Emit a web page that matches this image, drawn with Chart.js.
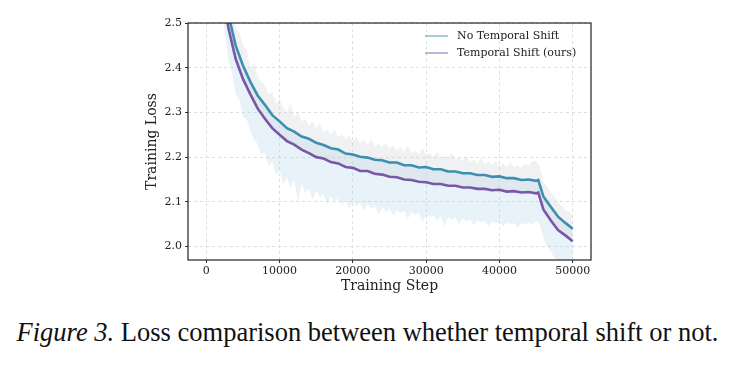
<!DOCTYPE html>
<html>
<head>
<meta charset="utf-8">
<script src="https://cdn.jsdelivr.net/npm/chart.js@4"></script>
<style>
  html, body { margin: 0; padding: 0; background: #fff; }
  #wrap { position: relative; width: 735px; height: 365px; }
  #loss-chart { position: absolute; left: 0; top: 0; }
  #caption {
    position: absolute; left: 0; top: 317px; width: 735px;
    text-align: center; font-family: "Liberation Serif", serif;
    font-size: 26.5px; line-height: 30px; color: #111; white-space: nowrap;
  }
</style>
</head>
<body>
<div id="wrap">
  <canvas id="loss-chart" width="735" height="300"></canvas>
  <div id="caption"><i>Figure 3.</i> Loss comparison between whether temporal shift or not.</div>
</div>
<script>
// training steps for the two loss curves
const steps = [2000, 3000, 4000, 5000, 6000, 7000, 8000, 9000, 10000, 11000, 12000, 13000, 14000, 15000,
  16000, 17000, 18000, 19000, 20000, 21000, 22000, 23000, 24000, 25000, 26000, 27000, 28000, 29000, 30000,
  31000, 32000, 33000, 34000, 35000, 36000, 37000, 38000, 39000, 40000, 41000, 42000, 43000, 44000, 45000,
  45300, 46000, 47000, 48000, 49000, 50000];

const noShift = [2.66, 2.52, 2.45, 2.405, 2.369, 2.338, 2.317, 2.294, 2.280, 2.265, 2.257, 2.246, 2.241, 2.232,
  2.227, 2.220, 2.217, 2.208, 2.206, 2.201, 2.199, 2.194, 2.193, 2.188, 2.188, 2.182, 2.182, 2.177, 2.178,
  2.173, 2.173, 2.168, 2.168, 2.164, 2.164, 2.160, 2.160, 2.156, 2.157, 2.153, 2.153, 2.149, 2.150, 2.147,
  2.149, 2.112, 2.089, 2.067, 2.053, 2.040];

const withShift = [2.62, 2.49, 2.42, 2.375, 2.341, 2.309, 2.286, 2.265, 2.250, 2.236, 2.228, 2.217, 2.209, 2.200,
  2.197, 2.189, 2.186, 2.178, 2.176, 2.169, 2.169, 2.163, 2.161, 2.156, 2.155, 2.150, 2.149, 2.145, 2.144,
  2.140, 2.140, 2.136, 2.136, 2.132, 2.132, 2.129, 2.129, 2.126, 2.127, 2.123, 2.124, 2.121, 2.122, 2.119,
  2.121, 2.083, 2.059, 2.037, 2.025, 2.012];

// finer steps for the noisy spread bands
const bandSteps = [2000, 2500, 3000, 3500, 4000, 4500, 5000, 5500, 6000, 6500, 7000, 7500, 8000, 8500,
  9000, 9500, 10000, 10500, 11000, 11500, 12000, 12500, 13000, 13500, 14000, 14500, 15000, 15500,
  16000, 16500, 17000, 17500, 18000, 18500, 19000, 19500, 20000, 20500, 21000, 21500, 22000, 22500,
  23000, 23500, 24000, 24500, 25000, 25500, 26000, 26500, 27000, 27500, 28000, 28500, 29000, 29500,
  30000, 30500, 31000, 31500, 32000, 32500, 33000, 33500, 34000, 34500, 35000, 35500, 36000, 36500,
  37000, 37500, 38000, 38500, 39000, 39500, 40000, 40500, 41000, 41500, 42000, 42500, 43000, 43500,
  44000, 44500, 45000, 45500, 46000, 46500, 47000, 47500, 48000, 48500, 49000, 49500, 50000];

// upper edge of the grey spread around "No Temporal Shift"
const noShiftHi = [2.72, 2.64, 2.57, 2.54, 2.49, 2.48, 2.45, 2.44, 2.40, 2.41, 2.38, 2.37, 2.36, 2.34,
  2.345, 2.32, 2.33, 2.31, 2.30, 2.32, 2.29, 2.30, 2.28, 2.285, 2.27, 2.28, 2.265, 2.275,
  2.255, 2.26, 2.25, 2.262, 2.245, 2.25, 2.24, 2.248, 2.235, 2.245, 2.23, 2.238, 2.228, 2.24,
  2.225, 2.23, 2.222, 2.232, 2.218, 2.226, 2.215, 2.222, 2.212, 2.226, 2.21, 2.215, 2.206, 2.22,
  2.204, 2.21, 2.20, 2.212, 2.198, 2.205, 2.196, 2.21, 2.194, 2.20, 2.19, 2.203, 2.188, 2.195,
  2.186, 2.198, 2.184, 2.19, 2.182, 2.192, 2.18, 2.186, 2.178, 2.188, 2.177, 2.183, 2.176, 2.186,
  2.18, 2.19, 2.192, 2.18, 2.145, 2.135, 2.12, 2.112, 2.098, 2.092, 2.082, 2.078, 2.07];

// lower edge of the light blue spread around "Temporal Shift (ours)"
const withShiftLo = [2.55, 2.48, 2.42, 2.39, 2.34, 2.33, 2.29, 2.285, 2.26, 2.24, 2.23, 2.205, 2.21, 2.18,
  2.19, 2.16, 2.17, 2.14, 2.155, 2.13, 2.15, 2.10, 2.14, 2.12, 2.13, 2.105, 2.125, 2.11,
  2.118, 2.095, 2.112, 2.10, 2.108, 2.09, 2.105, 2.085, 2.10, 2.09, 2.098, 2.08, 2.095, 2.085,
  2.09, 2.072, 2.088, 2.078, 2.085, 2.07, 2.082, 2.075, 2.08, 2.062, 2.078, 2.07, 2.075, 2.055,
  2.072, 2.065, 2.07, 2.058, 2.068, 2.045, 2.066, 2.06, 2.064, 2.05, 2.062, 2.058, 2.06, 2.048,
  2.058, 2.055, 2.057, 2.045, 2.056, 2.052, 2.055, 2.045, 2.054, 2.05, 2.053, 2.042, 2.052, 2.05,
  2.054, 2.048, 2.058, 2.05, 2.02, 2.00, 1.99, 1.975, 1.97, 1.955, 1.955, 1.945, 1.948];

const xTicks = [0, 10000, 20000, 30000, 40000, 50000];
const yTicks = [2.0, 2.1, 2.2, 2.3, 2.4, 2.5];

const TEAL = '#3d8fb0';
const PURPLE = '#7857a6';
const SERIF = '"DejaVu Serif", serif';

const pts = (xs, arr) => xs.map((s, i) => ({ x: s, y: arr[i] }));

const frame = {
  id: 'frame',
  afterDraw(chart) {
    const { ctx, chartArea: a } = chart;
    ctx.save();
    ctx.strokeStyle = '#222';
    ctx.lineWidth = 1.2;
    ctx.strokeRect(a.left, a.top, a.right - a.left, a.bottom - a.top);
    ctx.restore();
  }
};

const insideLegend = {
  id: 'insideLegend',
  afterDraw(chart) {
    const { ctx, chartArea: a } = chart;
    const items = chart.data.datasets.filter(d => d.inLegend);
    ctx.save();
    ctx.font = '11px ' + SERIF;
    ctx.textBaseline = 'middle';
    items.forEach((d, i) => {
      const y = a.top + 13 + i * 17;
      const x0 = a.right - 166;
      ctx.strokeStyle = d.borderColor;
      ctx.globalAlpha = 0.75;
      ctx.lineWidth = 1.2;
      ctx.beginPath();
      ctx.moveTo(x0, y);
      ctx.lineTo(x0 + 23, y);
      ctx.stroke();
      ctx.globalAlpha = 1;
      ctx.fillStyle = '#222';
      ctx.fillText(d.label, x0 + 32, y);
    });
    ctx.restore();
  }
};

function initLossChart() {
  const el = document.getElementById('loss-chart');
  new Chart(el, {
    type: 'line',
    data: {
      datasets: [
        {
          label: 'No Temporal Shift',
          inLegend: true,
          data: pts(steps, noShift),
          borderColor: TEAL,
          borderWidth: 2.6,
          pointRadius: 0,
          tension: 0,
          fill: false,
        },
        {
          label: 'Temporal Shift (ours)',
          inLegend: true,
          data: pts(steps, withShift),
          borderColor: PURPLE,
          borderWidth: 2.6,
          pointRadius: 0,
          tension: 0,
          fill: false,
        },
        {
          label: 'no shift spread',
          data: pts(bandSteps, noShiftHi),
          borderWidth: 0,
          pointRadius: 0,
          backgroundColor: 'rgba(205, 210, 216, 0.3)',
          fill: { target: 1 },
        },
        {
          label: 'shift spread',
          data: pts(bandSteps, withShiftLo),
          borderWidth: 0,
          pointRadius: 0,
          backgroundColor: 'rgba(180, 212, 236, 0.3)',
          fill: { target: 0 },
        },
      ]
    },
    options: {
      responsive: false,
      animation: false,
      devicePixelRatio: 1,
      layout: { padding: { left: 140, top: 23, right: 144, bottom: 1 } },
      plugins: { legend: { display: false }, tooltip: { enabled: false } },
      scales: {
        x: {
          type: 'linear',
          min: -2500,
          max: 52500,
          afterBuildTicks: s => { s.ticks = xTicks.map(v => ({ value: v })); },
          afterFit: s => { s.height = 39; },
          ticks: {
            callback: v => String(v),
            color: '#222',
            font: { family: SERIF, size: 11 },
            padding: 2,
            maxRotation: 0,
          },
          grid: { color: '#dddddd', tickColor: '#333', tickLength: 3, tickBorderDash: [] },
          border: { display: false, dash: [3, 3] },
          title: {
            display: true,
            text: 'Training Step',
            color: '#222',
            font: { family: SERIF, size: 14 },
          },
        },
        y: {
          min: 1.97,
          max: 2.5,
          afterBuildTicks: s => { s.ticks = yTicks.map(v => ({ value: v })); },
          afterFit: s => { s.width = 48; },
          ticks: {
            callback: v => v.toFixed(1),
            color: '#222',
            font: { family: SERIF, size: 11 },
            padding: 3,
          },
          grid: { color: '#dddddd', tickColor: '#333', tickLength: 3, tickBorderDash: [] },
          border: { display: false, dash: [3, 3] },
          title: {
            display: true,
            text: 'Training Loss',
            color: '#222',
            font: { family: SERIF, size: 14 },
          },
        },
      },
    },
    plugins: [frame, insideLegend],
  });
}

document.addEventListener('DOMContentLoaded', initLossChart);
</script>
</body>
</html>
